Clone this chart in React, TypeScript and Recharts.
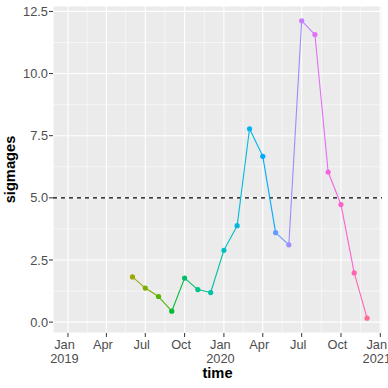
import React from "react";
import {
  ComposedChart,
  Line,
  XAxis,
  YAxis,
  CartesianGrid,
  ReferenceLine,
} from "recharts";

// monthly values, first of each month
const months = [
  "2019-06", "2019-07", "2019-08", "2019-09", "2019-10", "2019-11", "2019-12",
  "2020-01", "2020-02", "2020-03", "2020-04", "2020-05", "2020-06",
  "2020-07", "2020-08", "2020-09", "2020-10", "2020-11", "2020-12",
];
const sigmages = [
  1.82, 1.37, 1.03, 0.44, 1.77, 1.31, 1.19,
  2.89, 3.88, 7.78, 6.67, 3.6, 3.11,
  12.12, 11.57, 6.04, 4.73, 1.98, 0.16,
];
// ggplot hue colours, one per month
const colors = [
  "#9EA700", "#7CAE00", "#53B400", "#00BA38", "#00BE67", "#00C08B", "#00C1A9",
  "#00BFC4", "#00BBDA", "#00B4F0", "#00A9FF", "#619CFF", "#9F8CFF",
  "#C77CFF", "#E36EF6", "#F564E3", "#FF61CC", "#FF64B0", "#FF6C91",
];

const threshold = 5;
const yTicks = [0, 2.5, 5, 7.5, 10, 12.5];
const yMinor = [1.25, 3.75, 6.25, 8.75, 11.25];
const xTicks = [
  "2019-01-01", "2019-04-01", "2019-07-01", "2019-10-01",
  "2020-01-01", "2020-04-01", "2020-07-01", "2020-10-01", "2021-01-01",
];
const xMinor = [
  "2019-02-15", "2019-05-16", "2019-08-16", "2019-11-16",
  "2020-02-15", "2020-05-16", "2020-08-16", "2020-11-16",
];
const xLimits = ["2019-01-01", "2020-12-01"];
const monthNames = ["Jan", "Feb", "Mar", "Apr", "May", "Jun", "Jul", "Aug", "Sep", "Oct", "Nov", "Dec"];

const FONT = '"Liberation Sans", Arial, Helvetica, sans-serif';
const TICK_SIZE = 12.8;
const toTs = (s: string) => Date.parse(s.length === 7 ? s + "-01" : s);

const data = months.map((m, i) => {
  const row: any = { t: toTs(m), v: sigmages[i] };
  if (i < months.length - 1) row[`s${i}`] = sigmages[i];
  if (i > 0) row[`s${i - 1}`] = sigmages[i];
  return row;
});

const xlo = toTs(xLimits[0]);
const xhi = toTs(xLimits[1]);
const xpad = (xhi - xlo) * 0.05;
const ymin = Math.min(...sigmages);
const ymax = Math.max(...sigmages);
const ypad = (ymax - ymin) * 0.05;

const MonthTick = (props: any) => {
  const { x, y, payload } = props;
  const d = new Date(payload.value);
  const m = d.getUTCMonth();
  const tx = x - 3.5;
  return (
    <text x={tx} y={y} textAnchor="middle" fill="#4D4D4D" fontSize={TICK_SIZE} fontFamily={FONT}>
      <tspan x={tx} dy="0.71em">{monthNames[m]}</tspan>
      {m === 0 ? (
        <tspan x={tx} dy="1.1em">{d.getUTCFullYear()}</tspan>
      ) : null}
    </text>
  );
};

const YTitle = (props: any) => {
  const vb = props.viewBox || { x: 0, y: 6, width: 53, height: 327 };
  const cx = vb.x + 15;
  const cy = vb.y + vb.height / 2;
  return (
    <text
      x={cx}
      y={cy}
      transform={`rotate(-90 ${cx} ${cy})`}
      textAnchor="middle"
      fontSize={14.67}
      fontWeight="bold"
      fontFamily={FONT}
      fill="#000000"
    >
      sigmages
    </text>
  );
};

const XTitle = (props: any) => {
  const vb = props.viewBox || { x: 53, y: 333, width: 329, height: 55 };
  return (
    <text
      x={vb.x + vb.width / 2}
      y={vb.y + 45}
      textAnchor="middle"
      fontSize={14.67}
      fontWeight="bold"
      fontFamily={FONT}
      fill="#000000"
    >
      time
    </text>
  );
};

const Dot = (props: any) => {
  const { cx, cy, index } = props;
  if (cx == null || cy == null) return <g key={`d${index}`} />;
  return <circle key={`d${index}`} cx={cx} cy={cy} r={2.6} fill={colors[index]} />;
};

export default function App() {
  return (
    <div style={{ position: "absolute", left: 0, top: 0, fontFamily: FONT }}>
      <ComposedChart
        width={388}
        height={388}
        data={data}
        margin={{ top: 6, right: 6, bottom: 0, left: 0 }}
      >
        <CartesianGrid fill="#EBEBEB" stroke="#FFFFFF" strokeWidth={1.1} />
        <XAxis
          dataKey="t"
          type="number"
          domain={[xlo - xpad, xhi + xpad]}
          ticks={xTicks.map(toTs)}
          tick={<MonthTick />}
          tickSize={4}
          tickMargin={3}
          height={55}
          axisLine={false}
          tickLine={{ stroke: "#333333" }}
          allowDataOverflow
          interval={0}
          label={<XTitle />}
        />
        <YAxis
          type="number"
          domain={[ymin - ypad, ymax + ypad]}
          ticks={yTicks}
          tickFormatter={(v: number) => v.toFixed(1)}
          tick={{ fill: "#4D4D4D", fontSize: TICK_SIZE, fontFamily: FONT }}
          tickSize={4}
          tickMargin={1}
          width={53}
          axisLine={false}
          tickLine={{ stroke: "#333333" }}
          allowDataOverflow
          interval={0}
          label={<YTitle />}
        />
        {yMinor.map((v) => (
          <ReferenceLine key={`ym${v}`} y={v} stroke="#FFFFFF" strokeWidth={0.55} />
        ))}
        {xMinor.map((s) => (
          <ReferenceLine key={`xm${s}`} x={toTs(s)} stroke="#FFFFFF" strokeWidth={0.55} />
        ))}
        <ReferenceLine y={threshold} stroke="#000000" strokeWidth={1.1} strokeDasharray="4 4" />
        {months.slice(0, -1).map((_, i) => (
          <Line
            key={`s${i}`}
            type="linear"
            dataKey={`s${i}`}
            stroke={colors[i]}
            strokeWidth={1.1}
            dot={false}
            activeDot={false}
            connectNulls={false}
            isAnimationActive={false}
          />
        ))}
        <Line
          type="linear"
          dataKey="v"
          stroke="none"
          dot={<Dot />}
          activeDot={false}
          isAnimationActive={false}
        />
      </ComposedChart>
    </div>
  );
}
